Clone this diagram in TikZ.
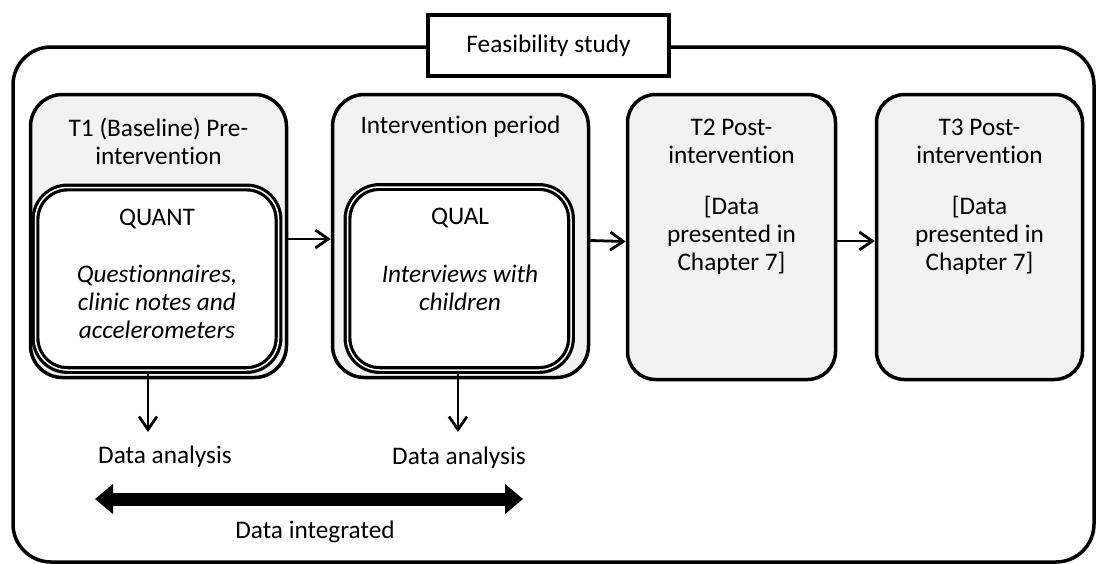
\documentclass[tikz,border=0pt]{standalone}
\usepackage{fontspec}
\setmainfont{Carlito}[Ligatures=NoCommon]
\usetikzlibrary{arrows.meta}
\definecolor{boxgray}{HTML}{F2F2F2}
\begin{document}
\begin{tikzpicture}[x=1pt,y=-1pt,
  every node/.style={font=\fontsize{25.3}{28}\selectfont, inner sep=0pt, align=center},
  phase/.style={draw, line width=3.5pt, fill=boxgray, rounded corners=32pt},
  post/.style={draw, line width=3.5pt, fill=boxgray, rounded corners=28pt},
  method/.style={draw, line width=3.2pt, double=white, double distance=1.5pt, fill=white, rounded corners=32pt},
  arr/.style={line width=2.8pt, -{Straight Barb[length=13pt,width=18pt]}},
  bigarr/.style={line width=13pt, {Triangle[length=18pt,width=29pt]}-{Triangle[length=18pt,width=29pt]}}
]
\useasboundingbox (0,0) rectangle (1097,563);

% outer frame
\node[draw, line width=3.5pt, rounded corners=38pt, minimum width=1081pt, minimum height=515pt] (outer) at (553.5,304.5) {};
\node[draw, line width=3.8pt, fill=white, minimum width=241pt, minimum height=61pt] (title) at (548.5,45.5) {Feasibility study};

% phase boxes
\node[phase, minimum width=256pt, minimum height=283pt] (t1) at (158.5,236) {};
\node[phase, minimum width=256pt, minimum height=283pt] (int) at (460.5,236) {};
\node[post, minimum width=208pt, minimum height=285pt] (t2) at (731.5,237) {};
\node[post, minimum width=206pt, minimum height=285pt] (t3) at (979.5,237) {};

% inner method boxes
\node[method, minimum width=243pt, minimum height=182.5pt] (quant) at (157,278.75) {};
\node[method, minimum width=223.5pt, minimum height=183pt] (qual) at (459.25,278.5) {};

% texts
\node (t1title) at (158.5,141) {T1 (Baseline) Pre-\\intervention};
\node (inttitle) at (460.5,127) {Intervention period};
\node (t2title) at (731.5,141.5) {T2 Post-\\intervention};
\node (t3title) at (979.5,141.5) {T3 Post-\\intervention};
\node (t2body) at (731.5,235) {[Data\\presented in\\Chapter 7]};
\node (t3body) at (979.5,235) {[Data\\presented in\\Chapter 7]};
\node (quantlab) at (157,219) {QUANT};
\node (quantbody) at (157,302) {\itshape Questionnaires,\\\itshape clinic notes and\\\itshape accelerometers};
\node (quallab) at (460,218) {QUAL};
\node (qualbody) at (460,287.5) {\itshape Interviews with\\\itshape children};

% horizontal arrows
\draw[arr] ([yshift=-3pt]t1.east) -- ([yshift=-3pt]int.west);
\draw[arr] ([yshift=-4.5pt]int.east) -- ([yshift=-4.5pt]t2.west);
\draw[arr] ([yshift=-4pt]t2.east) -- ([yshift=-4pt]t3.west);

% down arrows
\coordinate (a1) at (148,432);
\coordinate (a2) at (458,432);
\draw[arr] (quant.south -| a1) -- (a1);
\draw[arr] (qual.south -| a2) -- (a2);

\node (da1) at (165,457) {Data analysis};
\node (da2) at (459,458) {Data analysis};

% integration arrow
\coordinate (L) at (95,499);
\coordinate (R) at (523,499);
\draw[bigarr] (L) -- (R);
\node (integ) at (315,532) {Data integrated};
\end{tikzpicture}
\end{document}
